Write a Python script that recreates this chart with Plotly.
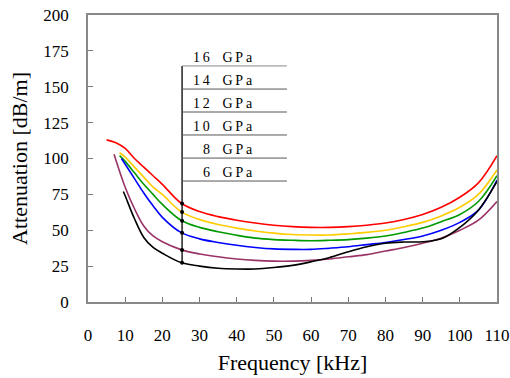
import numpy as np
import plotly.graph_objects as go

# ---- data ----
labels = ["16 GPa", "14 GPa", "12 GPa", "10 GPa", "8 GPa", "6 GPa"]
colors = ["#ff0000", "#ffcc00", "#009900", "#0000ff", "#993366", "#000000"]

f_16 = [5, 7.5, 10, 12.5, 15, 17.5, 20, 25, 30, 35, 40, 45, 50, 55, 60, 65, 70, 75, 80, 85, 90, 95, 100, 105, 110]
a_16 = [113, 111, 107, 100, 94, 88, 82, 69, 63, 59.5, 57, 55, 53.5, 52.5, 52, 52, 52.5, 53.5, 55, 57.5, 61, 66, 73, 83, 102]

f_14 = [8.5, 10, 12.5, 15, 17.5, 20, 25, 30, 35, 40, 45, 50, 55, 60, 65, 70, 75, 80, 85, 90, 95, 100, 105, 110]
a_14 = [104, 101, 94, 87, 80, 75, 63, 57.5, 54, 51.5, 49.5, 48, 47, 46.7, 46.7, 47.5, 48.5, 50, 52.5, 55.5, 60, 66, 75, 92]

f_12 = [8.5, 10, 12.5, 15, 17.5, 20, 25, 30, 35, 40, 45, 50, 55, 60, 65, 70, 75, 80, 85, 90, 95, 100, 105, 110]
a_12 = [102, 98, 90, 82, 75, 68, 57, 52, 49, 46.5, 44.5, 43.5, 43, 42.7, 43, 43.5, 44.5, 46, 48.5, 51.5, 56, 61, 70, 88]

f_10 = [9, 10, 12.5, 15, 17.5, 20, 25, 30, 35, 40, 45, 50, 55, 60, 65, 70, 75, 80, 85, 90, 95, 100, 105, 110]
a_10 = [100, 96, 86, 76, 67, 59, 48.5, 44, 41.5, 39.5, 38, 37, 36.7, 36.7, 37.5, 38.5, 40, 41.5, 43.5, 46, 50, 55.5, 64, 85]

f_8 = [7, 10, 12.5, 15, 17.5, 20, 25, 30, 35, 40, 45, 50, 55, 60, 65, 70, 75, 80, 85, 90, 95, 100, 105, 110]
a_8 = [103, 80, 65, 53, 46, 42, 36.5, 33.5, 31.5, 30, 29, 28.5, 28.5, 29, 30, 31.5, 33, 35.5, 38, 41, 44.5, 50, 57, 70]

f_6 = [9.5, 10, 12.5, 15, 17.5, 20, 25, 30, 35, 40, 45, 50, 55, 60, 65, 70, 75, 80, 85, 90, 95, 100, 105, 110]
a_6 = [77, 74, 58, 45, 38, 34, 27.5, 25, 23.5, 23, 23, 24, 25.5, 28, 31, 35, 38.5, 41, 41.8, 42, 44, 52, 64, 84]

series_f = [f_16, f_14, f_12, f_10, f_8, f_6]
series_a = [a_16, a_14, a_12, a_10, a_8, a_6]

# label table (reference line) values
ref_freq = 25.3
table_rows = [164.5, 148.4, 132.4, 116.4, 100.3, 84.3]
table_end = 53.5
label_x = 44.8

x_ticks = list(range(0, 111, 10))
y_ticks = list(range(0, 201, 25))

FONT = "Liberation Serif"

fig = go.Figure()
for f, a, c, lab in zip(series_f, series_a, colors, labels):
    fig.add_trace(go.Scatter(x=f, y=a, mode="lines", line=dict(color=c, width=1.6),
                             name=lab, showlegend=False, line_shape="spline"))

# vertical reference line with markers at curve intersections
pts = [float(np.interp(ref_freq, f, a)) for f, a in zip(series_f, series_a)]
fig.add_trace(go.Scatter(x=[ref_freq, ref_freq], y=[table_rows[0], pts[-1]], mode="lines",
                         line=dict(color="black", width=1.3), showlegend=False))
fig.add_trace(go.Scatter(x=[ref_freq] * len(pts), y=pts, mode="markers",
                         marker=dict(color="black", size=4), showlegend=False))

# horizontal table lines and labels
for i, (yv, lab) in enumerate(zip(table_rows, labels)):
    fig.add_trace(go.Scatter(x=[ref_freq, table_end], y=[yv, yv], mode="lines",
                             line=dict(color="#555555" if i else "#888888", width=1),
                             showlegend=False))
    spaced = "\u2009".join(list(lab.replace(" ", "\u2002")))
    fig.add_annotation(x=label_x, y=yv, text=spaced, showarrow=False,
                       xanchor="right", yanchor="bottom", yshift=-1,
                       font=dict(family=FONT, size=14, color="black"))

fig.update_layout(
    width=510, height=378,
    margin=dict(l=88, r=13, t=15, b=76),
    paper_bgcolor="white", plot_bgcolor="white",
    font=dict(family=FONT, size=17, color="black"),
    xaxis=dict(range=[0, 110], tickvals=x_ticks, ticks="inside", ticklen=5,
               tickcolor="#777777", showline=True, linecolor="#888888", linewidth=1.5,
               mirror=True, showgrid=False, zeroline=False, ticklabelstandoff=17,
               automargin=False, tickfont=dict(family=FONT, size=17),
               title=dict(text="Frequency [kHz]", font=dict(family=FONT, size=22), standoff=10)),
    yaxis=dict(range=[0, 200], tickvals=y_ticks, ticks="inside", ticklen=5,
               tickcolor="#777777", showline=True, linecolor="#888888", linewidth=1.5,
               mirror=True, showgrid=False, zeroline=False, ticklabelstandoff=14,
               automargin=False, tickfont=dict(family=FONT, size=17),
               title=dict(text="Attenuation [dB/m]", font=dict(family=FONT, size=22), standoff=10)),
)

fig.write_html("out.html")
